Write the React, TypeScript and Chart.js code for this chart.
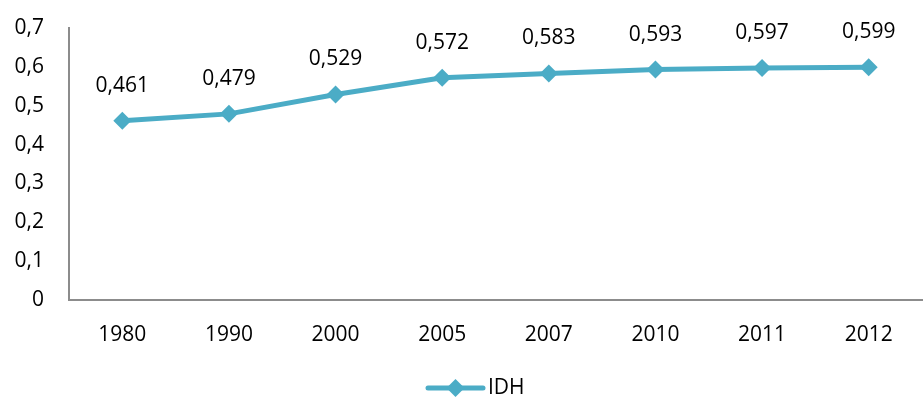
import React, { useEffect, useRef } from "react";
import { Chart, registerables } from "chart.js";

Chart.register(...registerables);

const categories = ["1980", "1990", "2000", "2005", "2007", "2010", "2011", "2012"];
const idhValues = [0.461, 0.479, 0.529, 0.572, 0.583, 0.593, 0.597, 0.599];
const yTicks = [0, 0.1, 0.2, 0.3, 0.4, 0.5, 0.6, 0.7];
const seriesLabel = "IDH";

const COLOR = "#4BACC6";
const FONT = "'Open Sans', sans-serif";
const FSIZE = 21;

const fmt = (v: number, digits?: number) => {
  const s = digits === undefined ? String(v) : v.toFixed(digits);
  return s.replace(".", ",");
};

const labelPlugin = {
  id: "valueLabels",
  afterDatasetsDraw(chart: any) {
    const ctx = chart.ctx;
    const meta = chart.getDatasetMeta(0);
    ctx.save();
    ctx.font = `${FSIZE}px ${FONT}`;
    ctx.fillStyle = "#000";
    ctx.textAlign = "center";
    ctx.textBaseline = "middle";
    meta.data.forEach((pt: any, i: number) => {
      ctx.fillText(fmt(idhValues[i], 3), pt.x, pt.y - 35);
    });
    ctx.restore();
  },
};

const legendPlugin = {
  id: "customLegend",
  afterDraw(chart: any) {
    const ctx = chart.ctx;
    const y = 388;
    const x0 = 428;
    const x1 = 483;
    ctx.save();
    ctx.strokeStyle = COLOR;
    ctx.lineWidth = 5;
    ctx.lineCap = "round";
    ctx.beginPath();
    ctx.moveTo(x0, y);
    ctx.lineTo(x1, y);
    ctx.stroke();
    const cx = (x0 + x1) / 2;
    const r = 9;
    ctx.fillStyle = COLOR;
    ctx.beginPath();
    ctx.moveTo(cx, y - r);
    ctx.lineTo(cx + r, y);
    ctx.lineTo(cx, y + r);
    ctx.lineTo(cx - r, y);
    ctx.closePath();
    ctx.fill();
    ctx.font = `${FSIZE}px ${FONT}`;
    ctx.fillStyle = "#000";
    ctx.textAlign = "left";
    ctx.textBaseline = "middle";
    ctx.fillText(seriesLabel, x1 + 5, y);
    ctx.restore();
  },
};

export default function App() {
  const ref = useRef<HTMLCanvasElement>(null);
  useEffect(() => {
    document.body.style.margin = "0";
    const chart = new Chart(ref.current!, {
      type: "line",
      data: {
        labels: categories,
        datasets: [
          {
            label: seriesLabel,
            data: idhValues,
            borderColor: COLOR,
            backgroundColor: COLOR,
            borderWidth: 5,
            pointStyle: "rectRot",
            pointRadius: 9,
            pointHoverRadius: 9,
            pointBackgroundColor: COLOR,
            pointBorderWidth: 0,
            tension: 0,
          },
        ],
      },
      options: {
        animation: false,
        responsive: false,
        devicePixelRatio: 1,
        layout: { padding: { top: 28, right: 0, bottom: 50, left: 0 } },
        plugins: { legend: { display: false }, tooltip: { enabled: false } },
        scales: {
          x: {
            offset: true,
            grid: { display: false, drawTicks: false },
            border: { color: "#8c8c8c", width: 2 },
            ticks: { color: "#000", font: { family: FONT, size: FSIZE }, padding: 22, maxRotation: 0, minRotation: 0 },
            afterFit: (s: any) => { s.height = 51; s.paddingLeft = 0; s.paddingRight = 0; },
          },
          y: {
            min: 0,
            max: 0.7,
            afterBuildTicks: (s: any) => { s.ticks = yTicks.map((v) => ({ value: v })); },
            grid: { display: false, drawTicks: false },
            border: { color: "#8c8c8c", width: 2 },
            ticks: {
              color: "#000",
              font: { family: FONT, size: FSIZE },
              padding: 25,
              maxRotation: 0,
              minRotation: 0,
              callback: (v: any) => fmt(Number(v)),
            },
            afterFit: (s: any) => { s.width = 69; s.paddingTop = 0; s.paddingBottom = 0; },
          },
        },
      },
      plugins: [labelPlugin, legendPlugin],
    });
    return () => chart.destroy();
  }, []);
  return (
    <div style={{ width: 923, height: 401, overflow: "hidden" }}>
      <canvas ref={ref} width={931} height={401} />
    </div>
  );
}
